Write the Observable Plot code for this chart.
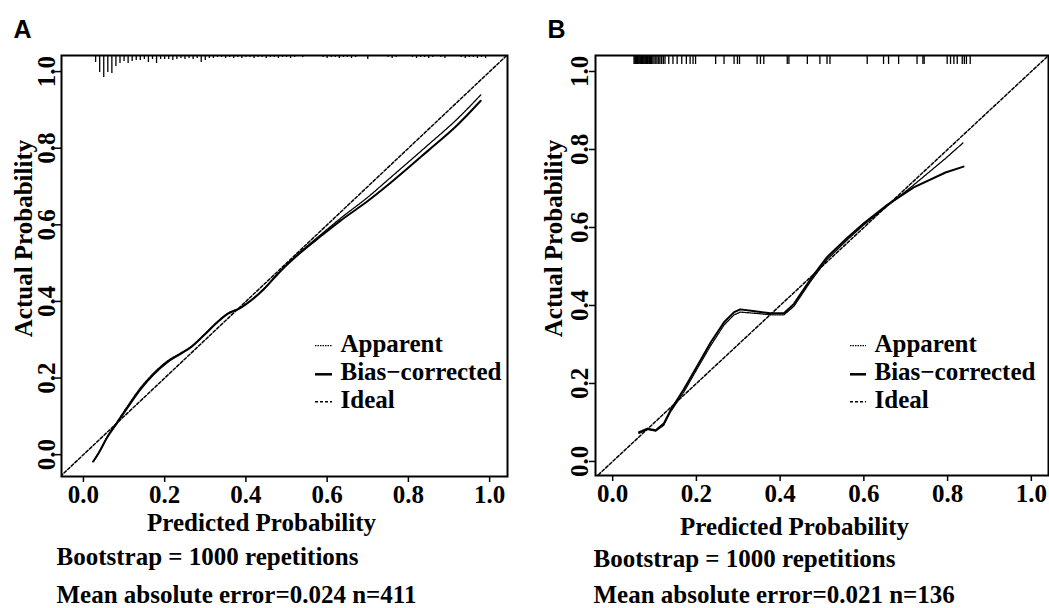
<!DOCTYPE html>
<html><head><meta charset="utf-8">
<script src="https://cdn.jsdelivr.net/npm/d3@7"></script>
<script src="https://cdn.jsdelivr.net/npm/@observablehq/plot@0.6"></script>
<style>
body{margin:0;background:#fff;}
#wrap{position:relative;width:1049px;height:608px;overflow:hidden;}
#wrap > svg{position:absolute;top:0;}
#overlay{position:absolute;left:0;top:0;pointer-events:none;}
</style></head>
<body><div id="wrap"></div>
<script>
// ---------- data ----------
const tickValues = [0, 0.2, 0.4, 0.6, 0.8, 1.0];
const legendLabels = ["Apparent", "Bias\u2212corrected", "Ideal"];
const xTitle = "Predicted Probability";
const yTitle = "Actual Probability";

// Panel A
const aX        = [0.024, 0.038, 0.058, 0.083, 0.108, 0.140, 0.173, 0.206, 0.239, 0.264, 0.296, 0.329, 0.354, 0.387, 0.411, 0.444, 0.485, 0.534, 0.584, 0.633, 0.700, 0.760, 0.850, 0.920, 0.978];
const aApparent = [-0.018, 0.006, 0.046, 0.086, 0.126, 0.174, 0.213, 0.244, 0.265, 0.281, 0.312, 0.346, 0.368, 0.384, 0.402, 0.433, 0.480, 0.529, 0.574, 0.617, 0.672, 0.727, 0.810, 0.876, 0.939];
const aBias     = [-0.018, 0.005, 0.044, 0.083, 0.122, 0.170, 0.210, 0.241, 0.263, 0.280, 0.311, 0.345, 0.367, 0.383, 0.401, 0.432, 0.479, 0.527, 0.570, 0.611, 0.662, 0.713, 0.795, 0.860, 0.924];
const aRugX = [0.03,0.04,0.05,0.06,0.07,0.08,0.09,0.10,0.11,0.12,0.13,0.14,0.15,0.16,0.17,0.18,0.19,0.20,0.21,0.22,0.23,0.24,0.25,0.26,0.27,0.28,0.29,0.30,0.31,0.32,0.33,0.34,
  0.35,0.36,0.37,0.38,0.39,0.40,0.41,0.42,0.43,0.44,0.45,0.46,0.47,0.48,0.49,0.50,0.51,0.52,0.54,0.59,0.60,0.61,0.62,0.63,0.64,0.65,0.66,0.67,0.70,0.75,0.76,0.77,0.81,0.82,0.83,0.84,0.85,0.86,0.88,0.89,0.93,0.94,0.95,0.96,0.97,0.98,0.99];
const aRugCount = [7,17,22,17,18,11,8,6,8,6,5,5,4,7,4,8,4,4,4,5,4,3,4,3,4,3,7,5,3,3,2,2,
  3,2,3,2,3,2,2,3,2,2,3,2,2,3,2,2,3,2,2,2,3,2,2,3,2,2,3,2,4,2,3,2,2,3,2,2,3,2,2,3,2,3,2,2,3,2,3];

// Panel B
const bX        = [0.063, 0.083, 0.103, 0.122, 0.138, 0.170, 0.202, 0.234, 0.266, 0.290, 0.305, 0.340, 0.377, 0.409, 0.433, 0.473, 0.512, 0.560, 0.600, 0.656, 0.719, 0.795, 0.838];
const bApparent = [0.072, 0.082, 0.078, 0.093, 0.127, 0.178, 0.238, 0.297, 0.350, 0.376, 0.383, 0.380, 0.376, 0.376, 0.398, 0.462, 0.518, 0.568, 0.607, 0.655, 0.709, 0.777, 0.818];
const bBias     = [0.075, 0.084, 0.080, 0.097, 0.131, 0.185, 0.245, 0.305, 0.357, 0.383, 0.390, 0.385, 0.380, 0.380, 0.404, 0.468, 0.524, 0.573, 0.611, 0.658, 0.703, 0.741, 0.756];
const bRugX = [0.051,0.053,0.055,0.057,0.059,0.061,0.063,0.065,0.067,0.069,0.071,0.073,0.075,0.077,0.079,0.081,0.083,0.085,0.088,0.090,0.093,0.096,0.099,0.103,0.106,0.110,0.113,0.117,0.121,0.125,
  0.134,0.144,0.154,0.165,0.176,0.185,0.192,0.198,0.246,0.266,0.290,0.298,0.303,0.345,0.353,0.361,0.417,0.421,0.465,0.495,0.512,0.519,0.608,0.647,0.659,0.683,0.727,0.741,0.744,0.799,0.807,0.815,0.823,0.835,0.840,0.845,0.854];

const footA = ["Bootstrap = 1000 repetitions", "Mean absolute error=0.024 n=411"];
const footB = ["Bootstrap = 1000 repetitions", "Mean absolute error=0.021 n=136"];

// ---------- drawing ----------
const fmt = d3.format(".1f");
const SERIF = "'Liberation Serif','Times New Roman',serif";
const SANS = "'Liberation Sans',Arial,sans-serif";
const FS = 25;
const legendBase = [351, 379, 407];

function panel(c) {
  const H = 608;
  const frameH = H - c.mt - c.mb;
  const frameBottom = c.mt + frameH;
  const yUnitPerPx = (c.yDom[1] - c.yDom[0]) / frameH;
  const top = c.yDom[1];
  const app = c.xs.map((x, i) => ({x, y: c.app[i]}));
  const bias = c.xs.map((x, i) => ({x, y: c.bias[i]}));
  const rug = c.rugX.map((x, i) => ({x, n: c.rugN ? c.rugN[i] : c.rugLen}));
  const frameCx = c.ml + (c.width - c.ml - c.mr) / 2;
  const frameCy = c.mt + frameH / 2;
  const txt = (s, o) => Plot.text([s], {text: d => d, lineAnchor: "bottom", fontSize: FS, ...o});
  return Plot.plot({
    width: c.width, height: H,
    marginLeft: c.ml, marginRight: c.mr, marginTop: c.mt, marginBottom: c.mb,
    x: {domain: c.xDom}, y: {domain: c.yDom},
    style: {fontFamily: SERIF, fontWeight: "bold", fontSize: FS + "px", background: "transparent", color: "#000"},
    marks: [
      Plot.line([-0.2, 1.2], {x: d => d, y: d => d, clip: true, stroke: "#000", strokeWidth: 1.5, strokeDasharray: "3,2"}),
      Plot.ruleX(rug, {x: "x", y1: top, y2: d => top - d.n * yUnitPerPx, stroke: "#000", strokeWidth: 1.3}),
      Plot.line(app, {x: "x", y: "y", curve: c.curve, stroke: "#000", strokeWidth: 1.3, strokeDasharray: "1.5,1"}),
      Plot.line(bias, {x: "x", y: "y", curve: c.curve, stroke: "#000", strokeWidth: 2}),
      Plot.frame({stroke: "#000", strokeWidth: 2}),
      Plot.axisX(tickValues, {tickSize: 6, tickPadding: 3, tickFormat: fmt, label: null, fontSize: FS, strokeWidth: 1.5}),
      Plot.axisY(tickValues, {tickSize: 6, tickFormat: () => "", label: null, strokeWidth: 1.5}),
      Plot.text(tickValues, {y: d => d, text: fmt, frameAnchor: "left", dx: c.yLabDx, rotate: -90, lineAnchor: "bottom", textAnchor: "middle", fontSize: FS}),
      txt(yTitle, {frameAnchor: "left", dx: c.yTitleX - c.ml, dy: 238 - frameCy, rotate: -90, textAnchor: "middle"}),
      txt(xTitle, {frameAnchor: "bottom", dx: c.xTitleCx - frameCx, dy: c.xTitleBase - frameBottom}),
      ...legendLabels.map((s, i) => txt(s, {frameAnchor: "top-left", dx: c.legX - c.ml, dy: legendBase[i] - c.mt, textAnchor: "start"})),
      txt(c.foot[0], {frameAnchor: "bottom-left", dx: c.footX - c.ml, dy: c.foot1 - frameBottom, textAnchor: "start"}),
      txt(c.foot[1], {frameAnchor: "bottom-left", dx: c.footX - c.ml, dy: c.foot2 - frameBottom, textAnchor: "start"}),
      txt(c.letter, {frameAnchor: "top-left", dx: c.letterX - c.ml, dy: 37 - c.mt, textAnchor: "start", fontFamily: SANS})
    ]
  });
}

const cfgA = {
  width: 525, ml: 61, mr: 18, mt: 55, mb: 608 - 476,
  xDom: [-0.054, 1.044], yDom: [-0.057, 1.042],
  xs: aX, app: aApparent, bias: aBias, rugX: aRugX, rugN: aRugCount, curve: "monotone-x",
  yLabDx: -7, yTitleX: 31, xTitleCx: 261, xTitleBase: 530,
  legX: 340, footX: 56, foot1: 564, foot2: 602, letter: "A", letterX: 13, foot: footA
};
const cfgB = {
  width: 524, ml: 70, mr: 1, mt: 55, mb: 608 - 475,
  xDom: [-0.041, 1.041], yDom: [-0.036, 1.041],
  xs: bX, app: bApparent, bias: bBias, rugX: bRugX, rugLen: 9, curve: "linear",
  yLabDx: -8, yTitleX: 561 - 525, xTitleCx: 794 - 525, xTitleBase: 534,
  legX: 874 - 525, footX: 593 - 525, foot1: 566, foot2: 602, letter: "B", letterX: 547 - 525, foot: footB
};

const wrap = document.getElementById("wrap");
const svgA = panel(cfgA); svgA.style.left = "0px";
const svgB = panel(cfgB); svgB.style.left = "525px";
wrap.appendChild(svgA); wrap.appendChild(svgB);

// Legend swatches (decoration)
const ns = "http://www.w3.org/2000/svg";
const ov = document.createElementNS(ns, "svg");
ov.setAttribute("id", "overlay"); ov.setAttribute("width", 1049); ov.setAttribute("height", 608);
const swY = [345.7, 374.3, 401.7];
const swStyle = [{w: 1.3, d: "1.5,1"}, {w: 2.5, d: null}, {w: 1.5, d: "3,2"}];
[[315, 332], [850, 866]].forEach(([x1, x2]) => {
  swY.forEach((y, i) => {
    const l = document.createElementNS(ns, "line");
    l.setAttribute("x1", x1); l.setAttribute("x2", x2); l.setAttribute("y1", y); l.setAttribute("y2", y);
    l.setAttribute("stroke", "#000"); l.setAttribute("stroke-width", swStyle[i].w);
    if (swStyle[i].d) l.setAttribute("stroke-dasharray", swStyle[i].d);
    ov.appendChild(l);
  });
});
wrap.appendChild(ov);
</script>
</body></html>
